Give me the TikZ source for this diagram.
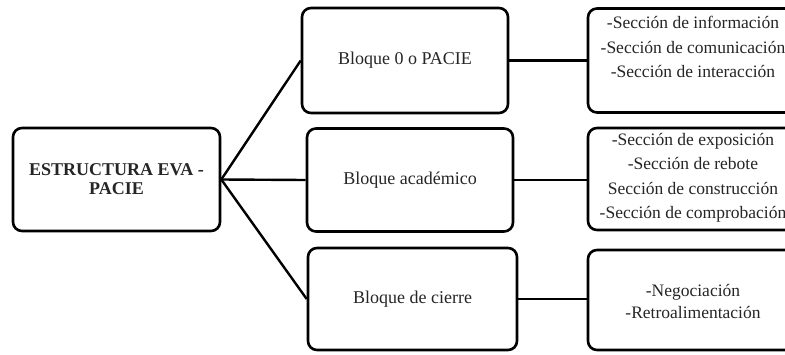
\documentclass[tikz,border=0pt]{standalone}
\usepackage{fontspec}
\setmainfont{Liberation Serif}
\begin{document}
\begin{tikzpicture}[x=1pt,y=-1pt,
  box/.style={draw=black, line width=2.6pt, rounded corners=9pt, fill=white, inner sep=0pt, align=center},
  link/.style={draw=black, line width=2.4pt},
  txt/.style={font=\fontsize{18}{19}\selectfont, text=black!85},
  rtxt/.style={font=\fontsize{17.5}{24.5}\selectfont, text=black!85, align=center, inner sep=0pt}]
\useasboundingbox (0,0) rectangle (785,354);
\clip (0,0) rectangle (785,354);
\fill[white] (0,0) rectangle (785,354);
% left box
\node[box, txt, minimum width=207pt, minimum height=103pt] (root) at (116.5,179.5)
  {\bfseries ESTRUCTURA EVA -\\\bfseries PACIE};
% middle boxes
\node[box, txt, minimum width=206pt, minimum height=105pt] (b0) at (405,60.5) {Bloque 0 o PACIE};
\node[box, txt, minimum width=206pt, minimum height=103pt] (b1) at (410,180) {Bloque académico};
\node[box, txt, minimum width=209pt, minimum height=102pt] (b2) at (412.5,299) {Bloque de cierre};
% right boxes
\node[box, minimum width=210pt, minimum height=104pt] (r0) at (693,60.5) {};
\node[box, minimum width=210pt, minimum height=102pt] (r1) at (693,179) {};
\node[box, minimum width=210pt, minimum height=100pt] (r2) at (693,300) {};
\node[rtxt] (r0t) at (693,47) {-Sección de información\\-Sección de comunicación\\-Sección de interacción};
\node[rtxt] (r1t) at (693,178) {-Sección de exposición\\-Sección de rebote\\Sección de construcción\\-Sección de comprobación};
\node[rtxt, font=\fontsize{17.5}{22}\selectfont] (r2t) at (693,301) {-Negociación\\-Retroalimentación};
% connectors
\draw[link] (root.east) -- (b0.west);
\draw[link] (root.east) -- (b1.west);
\draw[link] (root.east) -- (b2.west);
\draw[link] (b0.east) -- (b0.east -| r0.west);
\draw[link] (b1.east) -- (b1.east -| r1.west);
\draw[link] (b2.east) -- (b2.east -| r2.west);
\end{tikzpicture}
\end{document}
